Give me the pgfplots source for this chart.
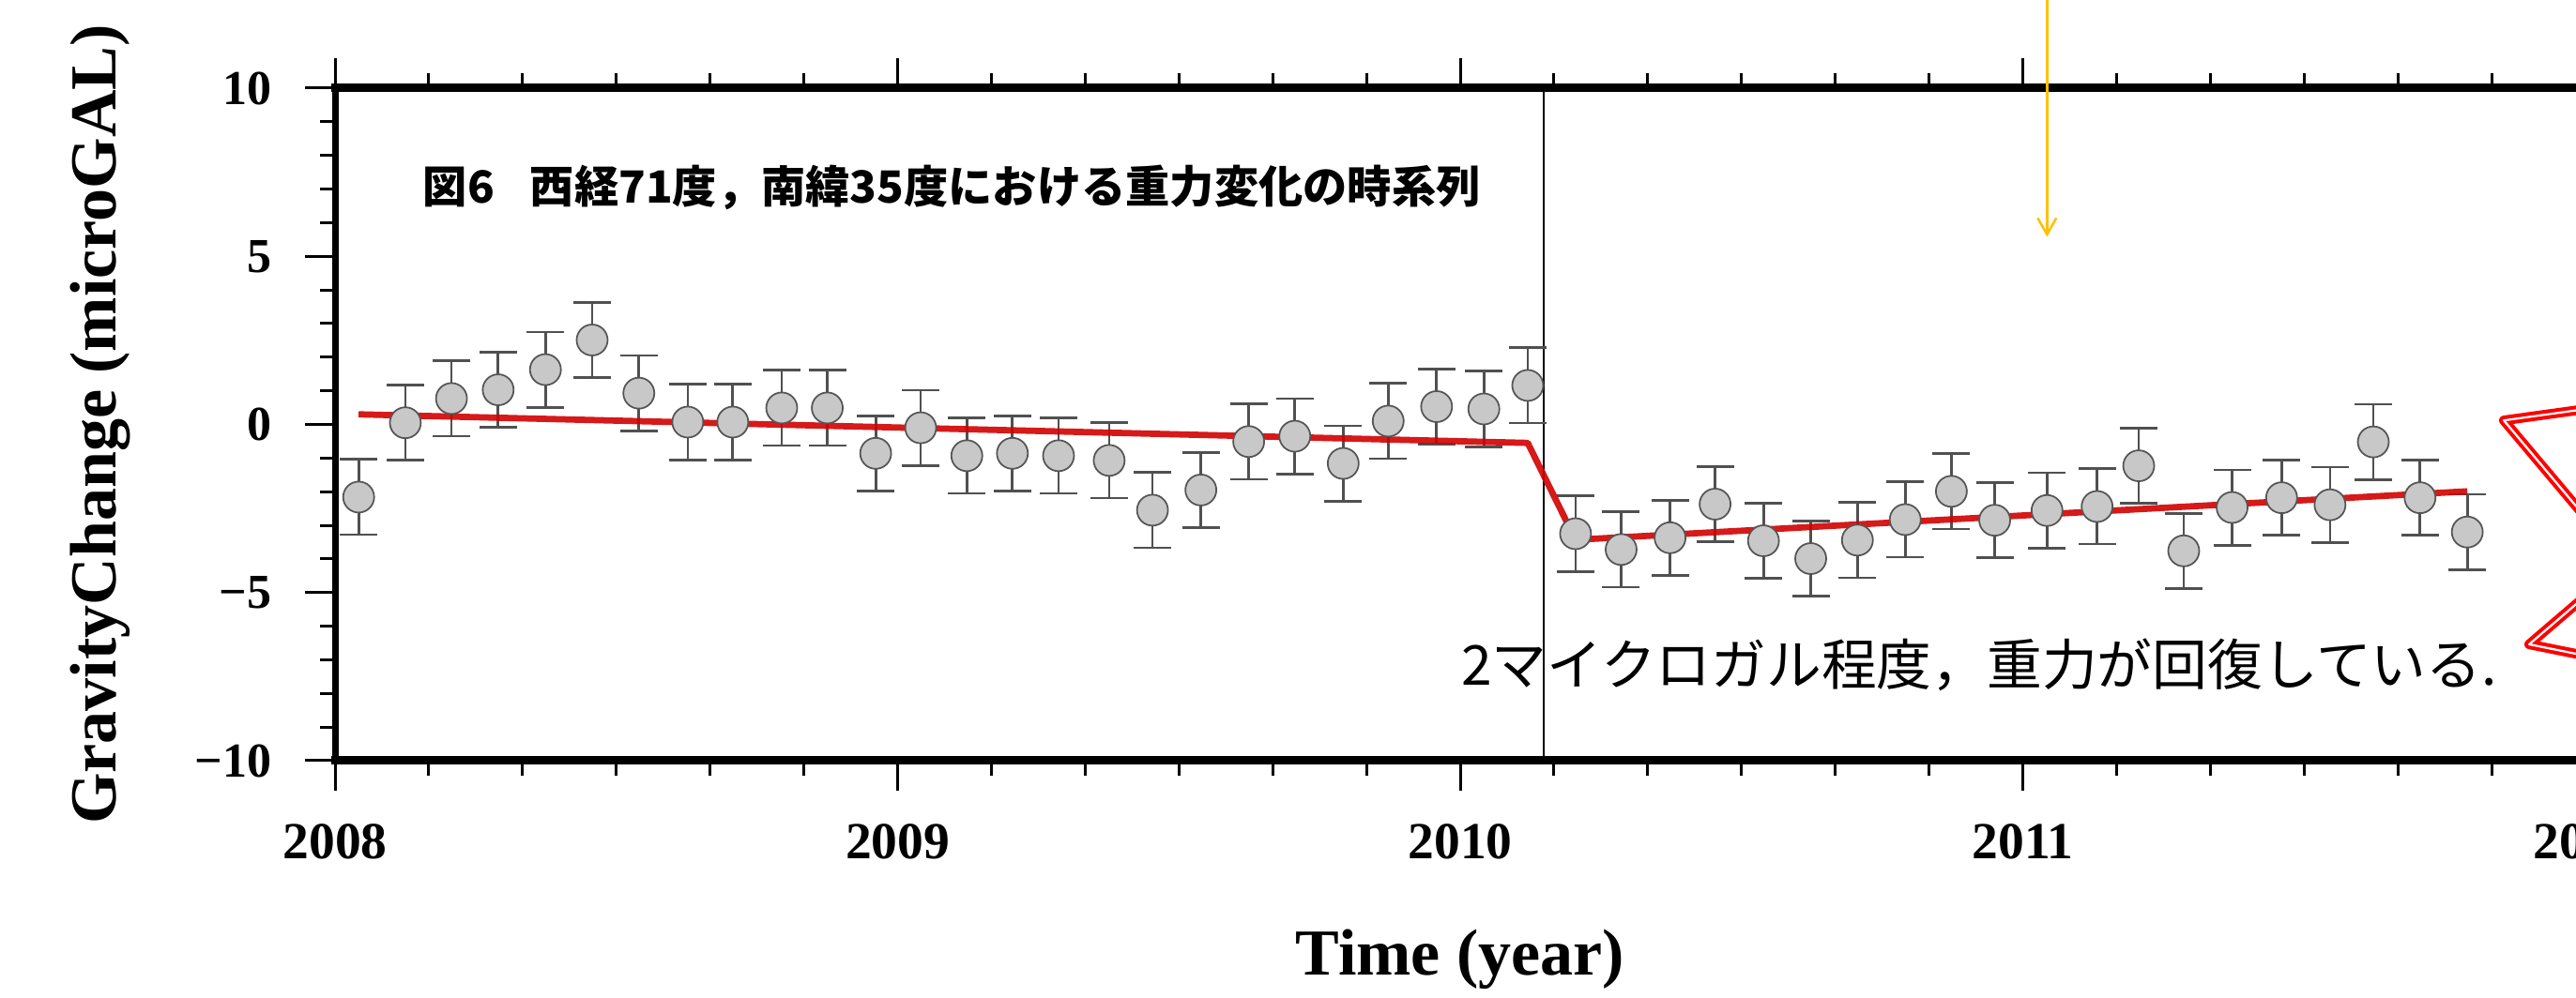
\documentclass[border=0pt]{standalone}
\usepackage{fontspec}
\setmainfont{Liberation Serif}
\newfontfamily\jpfont{Noto Sans CJK JP}
\usepackage{pgfplots}
\usepackage{pgfplotstable}
\pgfplotsset{compat=1.18}
\usetikzlibrary{arrows.meta}
\definecolor{fitred}{RGB}{210,0,0}
\definecolor{markgray}{RGB}{200,200,200}
\definecolor{edgegray}{RGB}{85,85,85}
\definecolor{bargray}{RGB}{80,80,80}
\definecolor{arrowyellow}{RGB}{255,192,0}
\pgfplotstableread{
x y e
2008.042 -2.16 1.12
2008.125 0.05 1.12
2008.207 0.77 1.12
2008.290 1.03 1.12
2008.374 1.63 1.12
2008.457 2.51 1.12
2008.540 0.93 1.12
2008.627 0.07 1.12
2008.707 0.07 1.12
2008.794 0.49 1.12
2008.875 0.49 1.12
2008.961 -0.86 1.12
2009.041 -0.10 1.12
2009.123 -0.93 1.12
2009.204 -0.86 1.12
2009.286 -0.93 1.12
2009.376 -1.07 1.12
2009.453 -2.55 1.12
2009.539 -1.95 1.12
2009.624 -0.51 1.12
2009.706 -0.35 1.12
2009.792 -1.16 1.12
2009.872 0.10 1.12
2009.958 0.53 1.12
2010.042 0.46 1.12
2010.120 1.16 1.12
2010.205 -3.25 1.12
2010.286 -3.72 1.12
2010.373 -3.37 1.12
2010.453 -2.37 1.12
2010.539 -3.46 1.12
2010.623 -3.99 1.12
2010.706 -3.44 1.12
2010.791 -2.83 1.12
2010.873 -1.99 1.12
2010.950 -2.85 1.12
2011.043 -2.56 1.12
2011.132 -2.44 1.12
2011.206 -1.23 1.12
2011.286 -3.76 1.12
2011.372 -2.47 1.12
2011.460 -2.18 1.12
2011.546 -2.39 1.12
2011.623 -0.52 1.12
2011.706 -2.18 1.12
2011.790 -3.20 1.12
}\gravdata
\pgfplotstableread{
x y
2008.042 0.30
2010.120 -0.55
2010.205 -3.43
2011.790 -1.99
}\fitdata
\begin{document}
\begin{tikzpicture}
\begin{axis}[
  scale only axis, width=479.6pt, height=143.4pt,
  xmin=2008, xmax=2012, ymin=-10, ymax=10,
  clip=false,
  separate axis lines,
  x axis line style={line width=1.8pt, line cap=rect},
  y axis line style={line width=1.4pt, line cap=rect},
  tick align=outside,
  xtick={2008,2009,2010,2011,2012}, xticklabels={2008,2009,2010,2011,2012},
  minor x tick num=5,
  ytick={-10,-5,0,5,10}, yticklabels={−10,−5,0,5,10},
  minor y tick num=4,
  major tick length=6.4pt, minor tick length=3.2pt,
  tick style={black, line width=0.6pt},
  xticklabel style={font=\bfseries\fontsize{11.1}{13}\selectfont, inner sep=0pt, anchor=north, yshift=-6.9pt},
  yticklabel style={font=\bfseries\fontsize{10.4}{12}\selectfont, inner sep=0pt, anchor=east, xshift=-7.0pt},
  xlabel={Time (year)}, ylabel={GravityChange (microGAL)},
  xlabel style={font=\bfseries\fontsize{14}{16}\selectfont, at={(axis description cs:0.5,-0.318)}, anchor=base, inner sep=0pt},
  ylabel style={font=\bfseries\fontsize{14}{16}\selectfont, at={(axis description cs:-0.0972,0.5)}, anchor=base, inner sep=0pt},
]
\addplot[black, line width=0.45pt] coordinates {(2010.148,-10) (2010.148,10)};
\addplot[only marks, mark=*, mark size=3.3pt,
  mark options={fill=markgray, draw=edgegray, line width=0.35pt},
  error bars/.cd, y dir=both, y explicit,
  error bar style={bargray, line width=0.55pt},
  error mark options={bargray, line width=0.55pt, mark size=4pt, rotate=90}]
  table[x=x, y=y, y error=e] {\gravdata};
\addplot[fitred, line width=1.35pt, opacity=0.9, line join=round] table[x=x, y=y] {\fitdata};
\addplot[arrowyellow, line width=0.5pt, -{Straight Barb[length=3.5pt, width=4pt]}] coordinates {(2011.043,13) (2011.043,5.58)};
\addplot[red, line width=0.8pt, double=white, double distance=0.45pt, line join=round] coordinates {(2012.075,0.63) (2011.855,0.12) (2012.075,-4.25)};
\addplot[red, line width=0.8pt, double=white, double distance=0.45pt, line join=round] coordinates {(2012.075,-4.03) (2011.900,-6.54) (2012.075,-7.13)};
\node[anchor=west, inner sep=0pt, font=\jpfont\bfseries\fontsize{9.45}{11}\selectfont] at (axis cs:2008.155,7.04) {図6\hspace{0.8em}西経71度，南緯35度における重力変化の時系列};
\node[anchor=west, inner sep=0pt, font=\jpfont\fontsize{11.75}{14}\selectfont] at (axis cs:2010.0,-7.16) {2マイクロガル程度，重力が回復している.};
\coordinate (bbll) at (axis cs:2007.4045,-17.057);
\coordinate (bbur) at (axis cs:2011.9833,12.622);
\end{axis}
\pgfresetboundingbox
\useasboundingbox (bbll) rectangle (bbur);
\end{tikzpicture}
\end{document}
